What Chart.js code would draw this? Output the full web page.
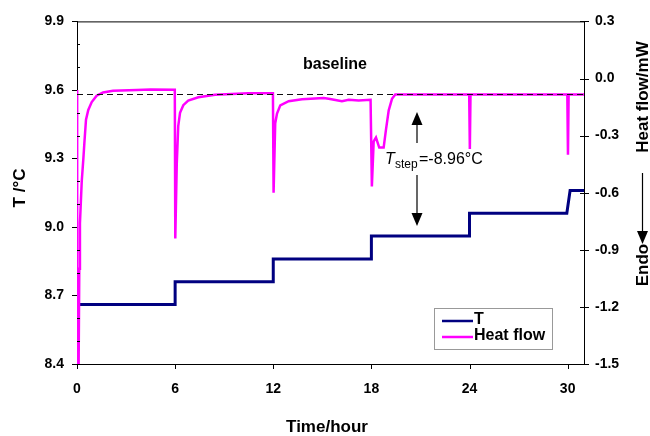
<!DOCTYPE html>
<html>
<head>
<meta charset="utf-8">
<script src="https://cdn.jsdelivr.net/npm/chart.js@4/dist/chart.umd.min.js"></script>
<style>
html, body { margin: 0; padding: 0; background: #fff; }
</style>
</head>
<body>
<canvas id="canvas" width="650" height="436"></canvas>
<script>
// tick labels
const timeTicks = [0, 6, 12, 18, 24, 30];
const tempTicks = [8.4, 8.7, 9.0, 9.3, 9.6, 9.9];
const flowTicks = [-1.5, -1.2, -0.9, -0.6, -0.3, 0.0, 0.3];

// temperature steps (T, left axis)
const tempTime = [0, 6, 6, 12, 12, 18, 18, 24, 24, 29.95, 30.15, 31];
const tempValue = [8.66, 8.66, 8.76, 8.76, 8.86, 8.86, 8.96, 8.96, 9.06, 9.06, 9.16, 9.16];

// heat flow (right axis)
const flowTime = [0, 0.01, 0.1, 0.14, 0.18, 0.29, 0.39, 0.45, 0.55, 0.69, 0.9, 1.2, 1.59, 2.2, 3.65, 4.5, 5.98,
  6.01, 6.1, 6.19, 6.3, 6.5, 6.8, 7.42, 8.44, 10.47, 11.98,
  12.02, 12.12, 12.23, 12.43, 12.94, 13.76, 15.08, 15.39, 16.2, 16.61, 17.22, 17.95,
  18.03, 18.14, 18.28, 18.48, 18.75, 18.89, 19.06, 19.26, 19.46,
  23.98, 24.02, 24.06, 29.98, 30.02, 30.06, 31];
const flowValue = [-0.06, -1.5, -1.5, -1.0, -0.76, -0.54, -0.42, -0.34, -0.216, -0.165, -0.124, -0.09, -0.073, -0.064, -0.061, -0.058, -0.059,
  -0.84, -0.45, -0.25, -0.18, -0.14, -0.116, -0.099, -0.085, -0.078, -0.077,
  -0.60, -0.235, -0.184, -0.141, -0.119, -0.109, -0.102, -0.106, -0.119, -0.112, -0.116, -0.112,
  -0.567, -0.33, -0.31, -0.363, -0.363, -0.27, -0.167, -0.107, -0.084,
  -0.084, -0.37, -0.084, -0.084, -0.40, -0.084, -0.084];

const baselineFlow = -0.083;

const SANS = "'Liberation Sans', Arial, sans-serif";

function toPoints(xs, ys) {
  return xs.map((x, i) => ({ x: x, y: ys[i] }));
}

function setTicks(list) {
  return function (scale) {
    scale.ticks = list.map(v => ({ value: v }));
  };
}

function arrow(ctx, x, from, to) {
  // shaft from "from" to head base, filled head ending at "to"
  const dir = to > from ? 1 : -1;
  const base = to - dir * 13;
  ctx.beginPath();
  ctx.moveTo(x, from);
  ctx.lineTo(x, base);
  ctx.stroke();
  ctx.beginPath();
  ctx.moveTo(x - 5.5, base);
  ctx.lineTo(x + 5.5, base);
  ctx.lineTo(x, to);
  ctx.closePath();
  ctx.fill();
}

const decor = {
  id: 'decor',
  afterDraw(chart) {
    const ctx = chart.ctx;
    const a = chart.chartArea;
    const xs = chart.scales.x, ys = chart.scales.y, ys1 = chart.scales.y1;
    ctx.save();
    ctx.strokeStyle = '#000';
    ctx.fillStyle = '#000';
    ctx.lineWidth = 1;

    // top border
    ctx.beginPath();
    ctx.moveTo(a.left, a.top + 0.5);
    ctx.lineTo(a.right, a.top + 0.5);
    ctx.stroke();

    ctx.beginPath();
    // left major ticks (outside) and minor ticks (inside)
    tempTicks.forEach(v => {
      const y = Math.round(ys.getPixelForValue(v)) + 0.5;
      ctx.moveTo(a.left - 5, y);
      ctx.lineTo(a.left, y);
    });
    for (let k = 0; k <= 15; k++) {
      if (k % 3 === 0) continue;
      const y = Math.round(ys.getPixelForValue(8.4 + k * 0.1)) + 0.5;
      ctx.moveTo(a.left, y);
      ctx.lineTo(a.left + 3, y);
    }
    // right ticks (crossing)
    flowTicks.forEach(v => {
      const y = Math.round(ys1.getPixelForValue(v)) + 0.5;
      ctx.moveTo(a.right - 4, y);
      ctx.lineTo(a.right + 5, y);
    });
    // bottom ticks
    timeTicks.forEach(v => {
      const x = Math.round(xs.getPixelForValue(v)) + 0.5;
      ctx.moveTo(x, a.bottom);
      ctx.lineTo(x, a.bottom + 5);
    });
    ctx.stroke();

    // dashed baseline
    const by = Math.round(ys1.getPixelForValue(baselineFlow)) + 0.5;
    ctx.save();
    ctx.strokeStyle = '#111';
    ctx.setLineDash([6, 4]);
    ctx.beginPath();
    ctx.moveTo(a.left, by);
    ctx.lineTo(a.right, by);
    ctx.stroke();
    ctx.restore();

    ctx.textBaseline = 'middle';
    ctx.textAlign = 'center';
    ctx.font = 'bold 16px ' + SANS;
    ctx.fillText('baseline', 335, 65);

    // T_step annotation
    ctx.lineWidth = 1.2;
    arrow(ctx, 417, 143, 112);
    arrow(ctx, 417, 175, 226);
    ctx.textAlign = 'left';
    ctx.textBaseline = 'alphabetic';
    ctx.font = 'italic 16px ' + SANS;
    ctx.fillText('T', 385, 164);
    ctx.font = '12px ' + SANS;
    ctx.fillText('step', 395, 168);
    ctx.font = '16px ' + SANS;
    ctx.fillText('=-8.96°C', 419, 164);

    // axis titles
    ctx.textBaseline = 'middle';
    ctx.textAlign = 'center';
    ctx.font = 'bold 17px ' + SANS;
    ctx.fillText('Time/hour', 327, 427);
    ctx.save();
    ctx.translate(20, 188);
    ctx.rotate(-Math.PI / 2);
    ctx.fillText('T /°C', 0, 0);
    ctx.restore();
    ctx.save();
    ctx.translate(643, 97);
    ctx.rotate(-Math.PI / 2);
    ctx.fillText('Heat flow/mW', 0, 0);
    ctx.restore();
    ctx.save();
    ctx.translate(643, 265);
    ctx.rotate(-Math.PI / 2);
    ctx.fillText('Endo', 0, 0);
    ctx.restore();
    arrow(ctx, 642.5, 173, 244);

    // legend
    ctx.lineWidth = 1;
    ctx.strokeStyle = '#999';
    ctx.fillStyle = '#fff';
    ctx.fillRect(434.5, 308.5, 118, 41);
    ctx.strokeRect(434.5, 308.5, 118, 41);
    ctx.font = 'bold 16px ' + SANS;
    ctx.textAlign = 'left';
    const rows = [321, 337];
    chart.data.datasets.forEach((ds, i) => {
      ctx.strokeStyle = ds.borderColor;
      ctx.lineWidth = 2.5;
      ctx.beginPath();
      ctx.moveTo(442, rows[i]);
      ctx.lineTo(473, rows[i]);
      ctx.stroke();
      ctx.fillStyle = '#000';
      ctx.fillText(ds.label, 474, rows[i] - 1);
    });
    ctx.restore();
  }
};

const c = document.getElementById('canvas');
const tickFont = { family: SANS, size: 14, weight: 'bold' };

new Chart(c, {
  type: 'line',
  data: {
    datasets: [
      {
        label: 'T',
        data: toPoints(tempTime, tempValue),
        borderColor: '#000080',
        borderWidth: 3,
        pointRadius: 0,
        yAxisID: 'y',
        order: 1
      },
      {
        label: 'Heat flow',
        data: toPoints(flowTime, flowValue),
        borderColor: '#ff00ff',
        borderWidth: 2.5,
        pointRadius: 0,
        yAxisID: 'y1',
        order: 0
      }
    ]
  },
  options: {
    responsive: false,
    animation: false,
    devicePixelRatio: 1,
    layout: { padding: { top: 12, bottom: 0, left: 0, right: 0 } },
    plugins: {
      legend: { display: false },
      tooltip: { enabled: false }
    },
    scales: {
      x: {
        type: 'linear',
        min: 0,
        max: 31,
        afterBuildTicks: setTicks(timeTicks),
        afterFit: s => { s.height = 72; },
        grid: { display: false, drawTicks: false },
        border: { display: true, color: '#000', width: 1 },
        ticks: {
          padding: 17,
          color: '#000',
          font: tickFont,
          callback: v => String(v)
        }
      },
      y: {
        position: 'left',
        min: 8.4,
        max: 9.9,
        afterBuildTicks: setTicks(tempTicks),
        afterFit: s => { s.width = 77; },
        grid: { display: false, drawTicks: false },
        border: { display: true, color: '#000', width: 1 },
        ticks: {
          padding: 13,
          color: '#000',
          font: tickFont,
          callback: v => v.toFixed(1)
        }
      },
      y1: {
        position: 'right',
        min: -1.5,
        max: 0.3,
        afterBuildTicks: setTicks(flowTicks),
        afterFit: s => { s.width = 66; },
        grid: { display: false, drawTicks: false },
        border: { display: true, color: '#000', width: 1 },
        ticks: {
          padding: 11,
          color: '#000',
          font: tickFont,
          callback: v => v.toFixed(1)
        }
      }
    }
  },
  plugins: [decor]
});
</script>
</body>
</html>
